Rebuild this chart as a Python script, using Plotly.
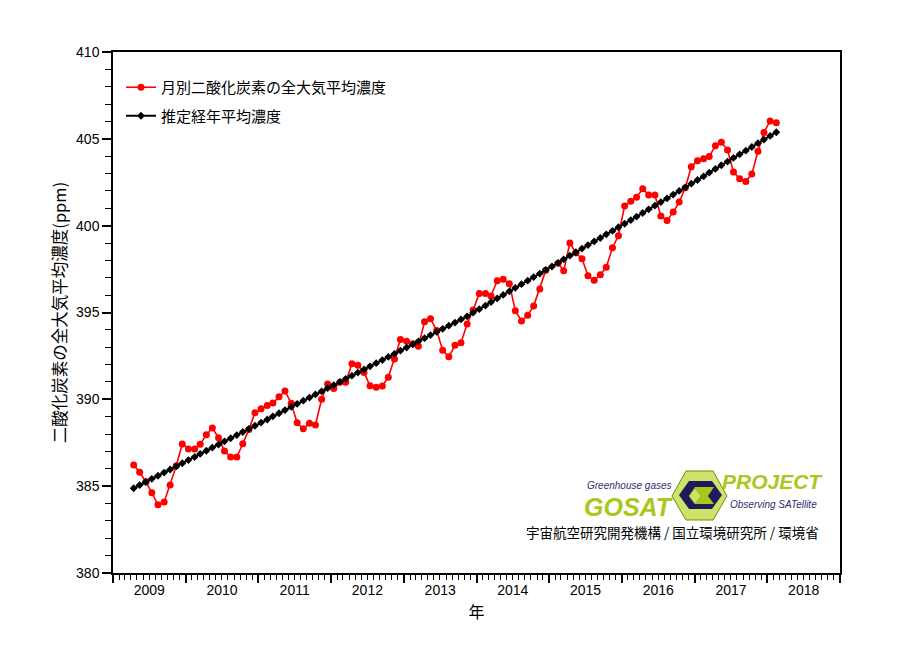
import plotly.graph_objects as go

# ---------------- data ----------------
start_year, start_month = 2009, 4   # first monthly value: April 2009
n_months = 107                      # April 2009 .. February 2018

monthly_co2 = [
    386.22, 385.80, 385.26, 384.62, 383.93, 384.09, 385.07, 386.18, 387.43,          # 2009 Apr-Dec
    387.14, 387.14, 387.41, 387.96, 388.35, 387.79, 387.02, 386.68, 386.68, 387.44, 388.27, 389.23,  # 2010
    389.46, 389.65, 389.79, 390.15, 390.48, 389.77, 388.65, 388.30, 388.62, 388.52, 390.00, 390.88,  # 2011
    390.63, 390.98, 390.98, 392.05, 391.96, 391.55, 390.78, 390.69, 390.77, 391.27, 392.32, 393.45,  # 2012
    393.34, 393.20, 393.05, 394.47, 394.64, 393.97, 392.82, 392.45, 393.11, 393.26, 394.34, 395.14,  # 2013
    396.10, 396.10, 395.95, 396.83, 396.91, 396.66, 395.10, 394.51, 394.84, 395.37, 396.36, 397.44,  # 2014
    None,   397.83, 397.40, 399.00, 398.43, 398.10, 397.11, 396.85, 397.17, 397.60, 398.73, 399.42,  # 2015
    401.13, 401.40, 401.63, 402.12, 401.77, 401.77, 400.56, 400.30, 400.78, 401.36, 402.18, 403.39,  # 2016
    403.74, 403.85, 403.98, 404.60, 404.81, 404.35, 403.09, 402.70, 402.55, 402.97, 404.28, 405.37,  # 2017
    406.02, 405.92,                                                                   # 2018 Jan-Feb
]

trend_co2 = [
    384.88, 385.06, 385.24, 385.42, 385.60, 385.78, 385.96, 386.14, 386.32,
    386.50, 386.68, 386.86, 387.04, 387.22, 387.40, 387.58, 387.76, 387.94, 388.12, 388.30, 388.48,
    388.66, 388.84, 389.02, 389.20, 389.38, 389.56, 389.74, 389.92, 390.10, 390.28, 390.46, 390.64,
    390.82, 391.00, 391.18, 391.36, 391.54, 391.72, 391.90, 392.08, 392.26, 392.44, 392.62, 392.80,
    392.98, 393.16, 393.34, 393.52, 393.70, 393.88, 394.06, 394.24, 394.42, 394.60, 394.78, 394.99,
    395.19, 395.40, 395.60, 395.81, 396.01, 396.22, 396.42, 396.63, 396.83, 397.04, 397.24, 397.45,
    397.65, 397.86, 398.06, 398.27, 398.47, 398.68, 398.88, 399.09, 399.29, 399.50, 399.70, 399.91,
    400.11, 400.32, 400.52, 400.73, 400.94, 401.15, 401.36, 401.57, 401.79, 402.00, 402.21, 402.42,
    402.63, 402.84, 403.05, 403.27, 403.48, 403.69, 403.90, 404.11, 404.32, 404.53, 404.75, 404.96,
    405.17, 405.38,
]

series_names = ["月別二酸化炭素の全大気平均濃度", "推定経年平均濃度"]
y_title = "二酸化炭素の全大気平均濃度(ppm)"
x_title = "年"
credit_text = "宇宙航空研究開発機構 / 国立環境研究所 / 環境省"

# month dates (mid-month)
dates = []
for i in range(n_months):
    m = start_month - 1 + i
    dates.append(f"{start_year + m // 12}-{m % 12 + 1:02d}-15")

JP = "Noto Sans CJK JP"
NUM = "Liberation Sans, Arial, sans-serif"

fig = go.Figure()
fig.add_trace(go.Scatter(
    x=dates, y=monthly_co2, name=series_names[0], mode="lines+markers",
    line=dict(color="#ff0000", width=1.6), marker=dict(color="#ff0000", size=7, symbol="circle"),
    connectgaps=False, legendgroup="a",
))
fig.add_trace(go.Scatter(
    x=dates, y=trend_co2, name=series_names[1], mode="lines+markers",
    line=dict(color="#000000", width=2), marker=dict(color="#000000", size=6, symbol="diamond"),
    legendgroup="b",
))

# ---------------- layout ----------------
# page body has an 8px margin: figure drawn at (8, 8)
OFF = 8
FW, FH = 895, 635
L, R, T, B = 113, 840, 52, 573          # plot area in screen pixels
def pp(x, y):
    return (x - L) / (R - L), (B - y) / (B - T)

fig.update_layout(
    width=FW, height=FH,
    margin=dict(l=L - OFF, r=FW - (R - OFF), t=T - OFF, b=FH - (B - OFF), pad=0),
    paper_bgcolor="white", plot_bgcolor="white",
    showlegend=True,
    legend=dict(x=pp(121, 0)[0], y=pp(0, 71)[1], xanchor="left", yanchor="top",
                font=dict(family=JP, size=15, color="black"),
                bgcolor="rgba(0,0,0,0)", tracegroupgap=6, itemwidth=30),
    font=dict(family=NUM, color="black"),
)
fig.update_xaxes(
    type="date", range=["2009-01-01", "2019-01-01"],
    dtick="M12", tick0="2009-01-01", ticklabelmode="period", tickformat="%Y",
    ticks="outside", ticklen=8, tickwidth=1.5, tickcolor="black", ticklabelstandoff=-5,
    minor=dict(dtick="M1", ticks="outside", ticklen=5, tickwidth=1, tickcolor="black"),
    showline=True, linecolor="black", linewidth=1.5, mirror=True, showgrid=False, zeroline=False,
    tickfont=dict(family=NUM, size=14, color="black"),
    title=dict(text=x_title, font=dict(family=JP, size=16, color="black"), standoff=10),
)
fig.update_yaxes(
    range=[380, 410], dtick=5, tick0=380,
    ticks="outside", ticklen=9, tickwidth=1.5, tickcolor="black",
    minor=dict(dtick=1, ticks="outside", ticklen=6, tickwidth=1, tickcolor="black"),
    showline=True, linecolor="black", linewidth=1.5, mirror=True, showgrid=False, zeroline=False,
    tickfont=dict(family=NUM, size=14, color="black"),
    title=dict(text=y_title, font=dict(family=JP, size=16.5, color="black"), standoff=5),
)

# ---------------- GOSAT logo (decoration) ----------------
lime = "#a8c81e"
lime_light = "#cfe36a"
navy = "#1c1c5c"

def path_from(points):
    s = ""
    for i, (x, y) in enumerate(points):
        px_, py_ = pp(x, y)
        s += ("M" if i == 0 else "L") + f"{px_:.5f},{py_:.5f} "
    return s + "Z"

hexagon = [(672, 496), (686, 471), (713, 471), (727, 496), (713, 520), (686, 520)]
fig.add_shape(type="path", xref="paper", yref="paper", path=path_from(hexagon),
              fillcolor=lime_light, line=dict(color="#6f8a10", width=1))
navy_c = [(679, 495), (689, 481), (712, 481), (722, 495), (712, 509), (689, 509)]
fig.add_shape(type="path", xref="paper", yref="paper", path=path_from(navy_c),
              fillcolor=navy, line=dict(color=navy, width=0))
notch = [(689, 496), (695, 487), (714, 487), (708, 496), (714, 504), (695, 504)]
fig.add_shape(type="path", xref="paper", yref="paper", path=path_from(notch),
              fillcolor=lime, line=dict(color=lime, width=0))
inner = [(689, 496), (695, 488), (701, 496), (695, 504)]
fig.add_shape(type="path", xref="paper", yref="paper", path=path_from(inner),
              fillcolor=lime_light, line=dict(color="#6f8a10", width=0.5))

def ann(text, x, y, size, color, family, xanchor="left", bold=False, italic=False):
    t = text
    if bold:
        t = f"<b>{t}</b>"
    if italic:
        t = f"<i>{t}</i>"
    px_, py_ = pp(x, y)
    fig.add_annotation(text=t, x=px_, y=py_, xref="paper", yref="paper", showarrow=False,
                       xanchor=xanchor, yanchor="middle",
                       font=dict(size=size, color=color, family=family))

ann("Greenhouse gases", 585, 485, 10, "#2d2d70", NUM, italic=True)
ann("GOSAT", 582, 507, 25, lime, NUM, bold=True, italic=True)
ann("PROJECT", 720, 481, 21, lime, NUM, bold=True, italic=True)
ann("Observing SATellite", 728, 504, 10, "#2d2d70", NUM, italic=True)
ann(credit_text, 821, 532, 13.5, "black", JP, xanchor="right")

fig.write_html("out.html")
